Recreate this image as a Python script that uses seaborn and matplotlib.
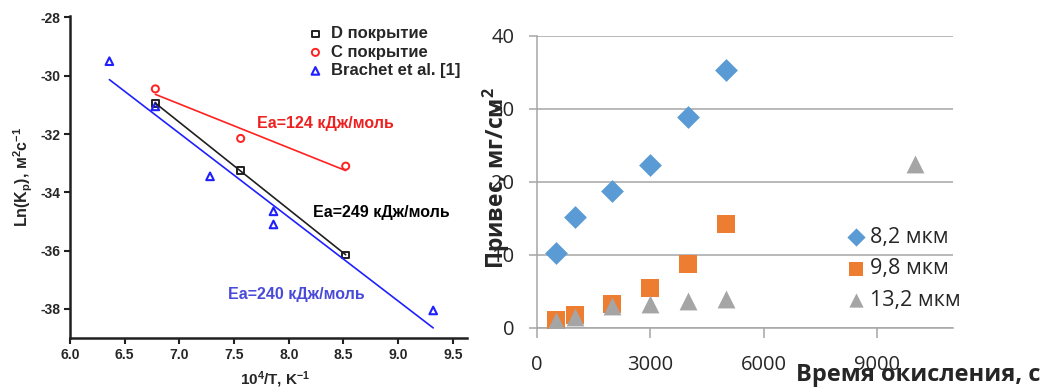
import numpy as np
import pandas as pd
import seaborn as sns
import matplotlib.pyplot as plt

# left panel: Arrhenius plot
x_d = [6.78, 7.56, 8.52]
y_d = [-30.95, -33.25, -36.15]
x_c = [6.78, 7.56, 8.52]
y_c = [-30.45, -32.15, -33.1]
x_br = [6.36, 6.78, 7.28, 7.86, 7.86, 9.32]
y_br = [-29.5, -31.05, -33.45, -34.65, -35.1, -38.05]
left_labels = ['D покрытие', 'С покрытие', 'Brachet et al. [1]']

# right panel: mass gain vs time
time = [500, 1000, 2000, 3000, 4000, 5000]
gain_82 = [10.3, 15.2, 18.8, 22.3, 28.9, 35.3]
gain_98 = [1.1, 1.8, 3.3, 5.5, 8.8, 14.2]
time_132 = [500, 1000, 2000, 3000, 4000, 5000, 10000]
gain_132 = [0.9, 1.5, 3.0, 3.3, 3.7, 3.9, 22.4]
right_labels = ['8,2 мкм', '9,8 мкм', '13,2 мкм']

sns.set_theme(style='ticks')
plt.rcParams['font.family'] = ['Liberation Sans', 'DejaVu Sans']
plt.rcParams['axes.unicode_minus'] = False
plt.rcParams['mathtext.default'] = 'regular'

fig = plt.figure(figsize=(10.45, 3.9), dpi=100)
ax1 = fig.add_axes([0.067, 0.133, 0.380, 0.826])
ax2 = fig.add_axes([0.5136, 0.1597, 0.398, 0.748])

# ---- left
line_kw = dict(scatter=False, ci=None, truncate=True)
sns.regplot(x=x_c, y=y_c, ax=ax1, line_kws=dict(color='#ff2020', lw=1.2), **line_kw)
sns.regplot(x=x_d, y=y_d, ax=ax1, line_kws=dict(color='#202020', lw=1.2), **line_kw)
sns.regplot(x=x_br, y=y_br, ax=ax1, line_kws=dict(color='#2020ff', lw=1.2), **line_kw)

h1 = ax1.scatter(x_d, y_d, marker='s', s=22, facecolors='none', edgecolors='#202020', linewidths=1.4)
h2 = ax1.scatter(x_c, y_c, marker='o', s=26, facecolors='none', edgecolors='#ff2020', linewidths=1.4)
h3 = ax1.scatter(x_br, y_br, marker='^', s=30, facecolors='none', edgecolors='#2020ff', linewidths=1.5)

ax1.set_xlim(6.0, 9.63)
ax1.set_ylim(-39, -27.95)
ax1.set_xticks(np.arange(6.0, 9.51, 0.5))
ax1.set_yticks([-38, -36, -34, -32, -30, -28])
ax1.xaxis.set_major_formatter(plt.FormatStrFormatter('%.1f'))
sns.despine(ax=ax1)
for s in ['left', 'bottom']:
    ax1.spines[s].set_linewidth(1.8)
    ax1.spines[s].set_color('#202020')
ax1.tick_params(length=4, width=1.5, color='#202020', labelsize=10, pad=3)
for lab in ax1.get_xticklabels() + ax1.get_yticklabels():
    lab.set_fontweight('bold')

ax1.set_xlabel('10$^{4}$/T, K$^{-1}$', fontsize=11, fontweight='bold')
ax1.xaxis.set_label_coords(0.516, -0.128)
ax1.xaxis.label.set_va('center')
ax1.set_ylabel('Ln(K$_{p}$), м$^{2}$с$^{-1}$', fontsize=11.5, fontweight='bold')
ax1.yaxis.set_label_coords(-0.118, 0.5)
ax1.yaxis.label.set_va('center')

ax1.text(7.71, -31.64, 'Ea=124 кДж/моль', color='#ee2020', fontsize=11.5, fontweight='bold', va='center')
ax1.text(8.22, -34.70, 'Ea=249 кДж/моль', color='black', fontsize=11.5, fontweight='bold', va='center')
ax1.text(7.44, -37.49, 'Ea=240 кДж/моль', color='#4a4ad8', fontsize=11.5, fontweight='bold', va='center')

ax1.legend([h1, h2, h3], left_labels, loc='upper left', bbox_to_anchor=(0.576, 0.994),
           frameon=False, borderpad=0, handlelength=1, handletextpad=0.45, labelspacing=0.21,
           prop=dict(size=12, weight='bold'))

# ---- right
blue, orange, grey = '#5b9bd5', '#ed7d31', '#a5a5a5'
sns.scatterplot(x=time, y=gain_82, ax=ax2, marker='D', s=135, color=blue, linewidth=0, label=right_labels[0], zorder=3)
sns.scatterplot(x=time, y=gain_98, ax=ax2, marker='s', s=170, color=orange, linewidth=0, label=right_labels[1], zorder=3)
sns.scatterplot(x=time_132, y=gain_132, ax=ax2, marker='^', s=165, color=grey, linewidth=0, label=right_labels[2], zorder=4)

ax2.set_xlim(0, 11000)
ax2.set_ylim(0, 40)
ax2.set_xticks([0, 3000, 6000, 9000])
ax2.set_yticks([0, 10, 20, 30, 40])
ax2.grid(axis='y', color='#a6a6a6', lw=1.1)
ax2.set_axisbelow(True)
sns.despine(ax=ax2)
ax2.spines['left'].set_color('#a6a6a6')
ax2.spines['bottom'].set_color('#a6a6a6')
ax2.spines['left'].set_linewidth(1.1)
ax2.spines['bottom'].set_linewidth(1.1)
ax2.tick_params(axis='x', length=7, width=1.1, color='#a6a6a6', pad=13, labelsize=14.5,
                labelfontfamily='Open Sans')
ax2.tick_params(axis='y', length=6, width=1.1, color='#a6a6a6', pad=10, labelsize=14.5,
                labelfontfamily='Open Sans')

ax2.set_xlabel('Время окисления, с', fontsize=17, fontweight='bold', family=['Open Sans', 'DejaVu Sans'])
ax2.xaxis.set_label_coords(1.212, -0.162)
ax2.xaxis.label.set_ha('right')
ax2.xaxis.label.set_va('center')
ax2.set_ylabel('Привес, мг/см$^{2}$', fontsize=16.5, fontweight='bold', family=['Open Sans', 'DejaVu Sans'])
ax2.yaxis.set_label_coords(-0.098, 0.513)
ax2.yaxis.label.set_va('center')

ax2.legend(loc='upper left', bbox_to_anchor=(0.715, 0.383), frameon=False, borderpad=0,
           handlelength=1, handletextpad=0.15, labelspacing=0.49, markerscale=0.8,
           prop=dict(family='Open Sans', size=15.5))

fig.savefig('out.png', dpi=100)
